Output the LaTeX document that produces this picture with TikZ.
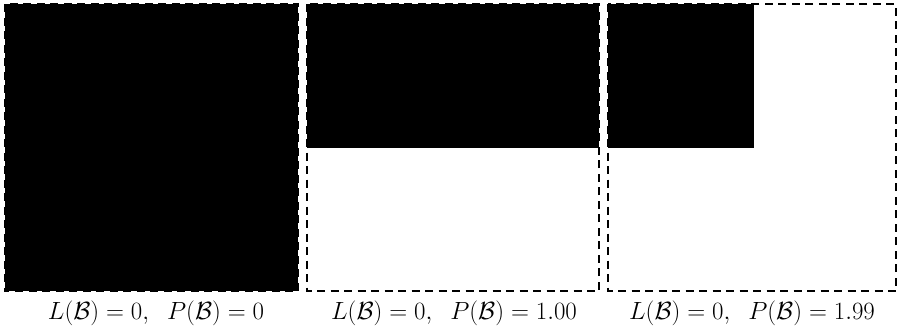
\documentclass[tikz,border=0pt]{standalone}
\usepackage{amsmath}
\begin{document}
\begin{tikzpicture}[x=1pt,y=-1pt,
  frame/.style={draw=black,line width=2.4pt,dash pattern=on 8pt off 5.5pt},
  blk/.style={fill=black,draw=none},
  lab/.style={font=\fontsize{26}{30}\selectfont,inner sep=0pt}]
\useasboundingbox (0,0) rectangle (899,333);
% box 1
\fill[blk] (5,4) rectangle (298,291);
\draw[frame] (5,4) rectangle (298,291);
% box 2
\fill[blk] (307,4) rectangle (599,148);
\draw[frame] (307,4) rectangle (599,291);
% box 3
\fill[blk] (608,4) rectangle (754,148);
\draw[frame] (608,4) rectangle (896,291);
% labels
\node[lab] (l1) at (156,313) {$L(\mathcal{B})=0,\;\;P(\mathcal{B})=0$};
\node[lab] (l2) at (454,313) {$L(\mathcal{B})=0,\;\;P(\mathcal{B})=1.00$};
\node[lab] (l3) at (752,313) {$L(\mathcal{B})=0,\;\;P(\mathcal{B})=1.99$};
\end{tikzpicture}
\end{document}
